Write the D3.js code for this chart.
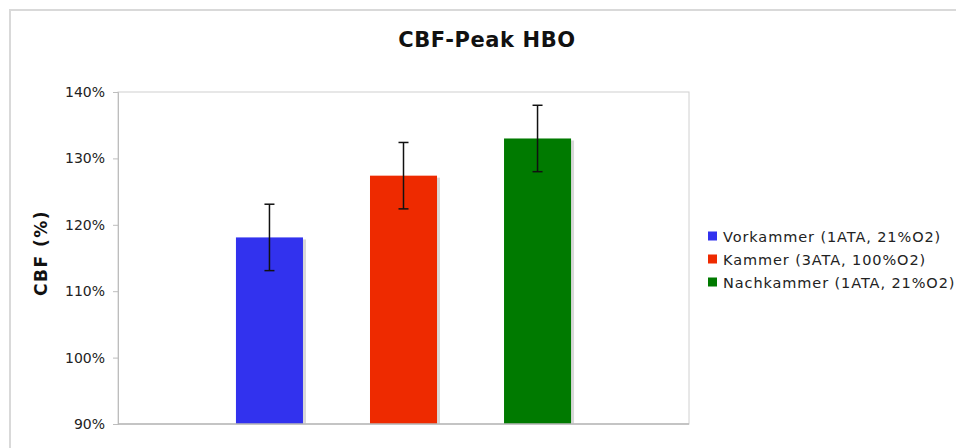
<!DOCTYPE html>
<html>
<head>
<meta charset="utf-8">
<script src="https://cdn.jsdelivr.net/npm/d3@7"></script>
<style>
  html, body { margin: 0; padding: 0; background: #fff; }
  svg { display: block; }
</style>
</head>
<body>
<svg id="chart" width="956" height="448"></svg>
<script>
const series = ["Vorkammer (1ATA, 21%O2)", "Kammer (3ATA, 100%O2)", "Nachkammer (1ATA, 21%O2)"];
const values = [118.1, 127.4, 133.0];
const errors = [5.0, 5.0, 5.0];
const colors = ["#3232EE", "#EE2A00", "#007A00"];
const yTicks = [90, 100, 110, 120, 130, 140];
const title = "CBF-Peak HBO";
const yTitle = "CBF (%)";

const svg = d3.select("#chart");
const W = 956, H = 448;
const plot = { left: 118, top: 92, right: 689, bottom: 424 };

// outer frame
svg.append("rect").attr("x", 10).attr("y", 10).attr("width", W + 20).attr("height", H + 20)
  .attr("fill", "#fff").attr("stroke", "#d9d9d9").attr("stroke-width", 2);

const y = d3.scaleLinear().domain([90, 140]).range([plot.bottom, plot.top]);
const x = d3.scaleBand().domain(series).range([plot.left, plot.right])
  .paddingInner(0.5).paddingOuter(0.88);

// plot area border
svg.append("rect").attr("x", plot.left).attr("y", plot.top)
  .attr("width", plot.right - plot.left).attr("height", plot.bottom - plot.top)
  .attr("fill", "none").attr("stroke", "#d0d0d0").attr("stroke-width", 1);

// bar shadows
svg.append("g").selectAll("rect").data(series).join("rect")
  .attr("x", d => x(d) + 3).attr("y", (d, i) => y(values[i]) + 2)
  .attr("width", x.bandwidth()).attr("height", (d, i) => y(90) - y(values[i]) - 2)
  .attr("fill", "#d8d8d8");

// bars
svg.append("g").selectAll("rect").data(series).join("rect")
  .attr("x", d => x(d)).attr("y", (d, i) => y(values[i]))
  .attr("width", x.bandwidth()).attr("height", (d, i) => y(90) - y(values[i]))
  .attr("fill", (d, i) => colors[i]);

// axes
const yAxis = d3.axisLeft(y).tickValues(yTicks).tickFormat(d => d + "%").tickSize(5).tickPadding(8);
const gy = svg.append("g").attr("transform", `translate(${plot.left},0)`).call(yAxis);
gy.select(".domain").attr("stroke", "#bdbdbd");
gy.selectAll(".tick line").attr("stroke", "#bdbdbd");
gy.selectAll(".tick text").attr("font-family", "DejaVu Sans, Verdana, sans-serif")
  .attr("font-size", 14).attr("fill", "#222");

svg.append("line").attr("x1", plot.left).attr("x2", plot.right)
  .attr("y1", y(90)).attr("y2", y(90)).attr("stroke", "#b8b8b8").attr("stroke-width", 1.5);

// error bars
const eg = svg.append("g").attr("stroke", "#111").attr("stroke-width", 1.5);
series.forEach((s, i) => {
  const cx = x(s) + x.bandwidth() / 2;
  const hi = y(values[i] + errors[i]), lo = y(values[i] - errors[i]);
  eg.append("line").attr("x1", cx).attr("x2", cx).attr("y1", hi).attr("y2", lo);
  eg.append("line").attr("x1", cx - 5).attr("x2", cx + 5).attr("y1", hi).attr("y2", hi);
  eg.append("line").attr("x1", cx - 5).attr("x2", cx + 5).attr("y1", lo).attr("y2", lo);
});

// title
svg.append("text").attr("x", 487).attr("y", 47).attr("text-anchor", "middle")
  .attr("font-family", "DejaVu Sans, Verdana, sans-serif").attr("font-weight", "bold")
  .attr("font-size", 21).attr("letter-spacing", 0.6).attr("fill", "#111").text(title);

// y title
svg.append("text").attr("transform", "translate(47,253) rotate(-90)").attr("text-anchor", "middle")
  .attr("font-family", "DejaVu Sans, Verdana, sans-serif").attr("font-weight", "bold")
  .attr("font-size", 17).attr("letter-spacing", 1.5).attr("fill", "#111").text(yTitle);

// legend
const lg = svg.append("g").attr("transform", "translate(708,236)");
series.forEach((s, i) => {
  const row = lg.append("g").attr("transform", `translate(0,${i * 23})`);
  row.append("rect").attr("x", 0).attr("y", -4.5).attr("width", 9).attr("height", 9).attr("fill", colors[i]);
  row.append("text").attr("x", 15).attr("y", 5.5)
    .attr("font-family", "DejaVu Sans, Verdana, sans-serif").attr("font-size", 14.5)
    .attr("letter-spacing", 0.9).attr("fill", "#222").text(s);
});
</script>
</body>
</html>
